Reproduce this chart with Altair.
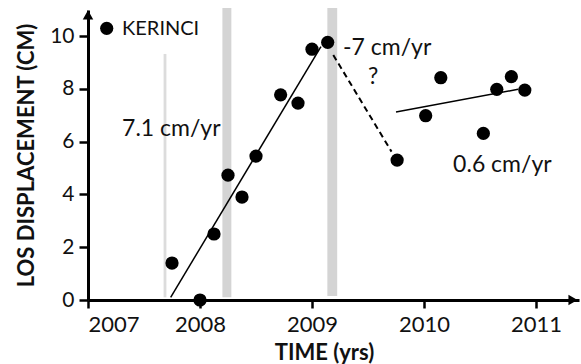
import altair as alt
import pandas as pd

# Observed points
pt_x = [2007.75, 2008.0, 2008.125, 2008.25, 2008.375, 2008.5, 2008.72, 2008.875,
        2009.0, 2009.14, 2009.76, 2010.015, 2010.15, 2010.53, 2010.65, 2010.78, 2010.9]
pt_y = [1.40, 0.0, 2.5, 4.73, 3.9, 5.45, 7.77, 7.46,
        9.5, 9.76, 5.3, 6.98, 8.42, 6.31, 7.98, 8.46, 7.95]

# Fitted trend segments
fit_seg = ["a", "a", "c", "c"]
fit_x = [2007.738, 2009.08, 2009.75, 2010.84]
fit_y = [0.1, 9.6, 7.12, 7.98]
dash_x = [2009.19, 2009.71]
dash_y = [9.28, 5.62]

# Gray bands (eruption / event markers)
band_x1 = [2007.675, 2008.2, 2009.137]
band_x2 = [2007.70, 2008.28, 2009.225]
band_y1 = [0.1, 0.1, 0.15]
band_y2 = [9.32, 11.06, 11.06]

# Annotations
ann_text = ["7.1 cm/yr", "-7 cm/yr", "?", "0.6 cm/yr", "KERINCI"]
ann_x = [2007.304, 2009.277, 2009.50, 2010.26, 2007.304]
ann_y = [6.48, 9.56, 8.43, 5.11, 10.25]

x_ticks = [2007, 2008, 2009, 2010, 2011]
y_ticks = [0, 2, 4, 6, 8, 10]

W, H = 491, 290
xdom = [2007, 2007 + W / 112.0]
ydom = [0, H / 26.4]

xs = alt.Scale(domain=xdom, nice=False, zero=False)
ys = alt.Scale(domain=ydom, nice=False, zero=True)

pts = pd.DataFrame({"x": pt_x, "y": pt_y})
fit = pd.DataFrame({"x": fit_x, "y": fit_y, "seg": fit_seg})
dash = pd.DataFrame({"x": dash_x, "y": dash_y})
bands = pd.DataFrame({"x1": band_x1, "x2": band_x2, "y1": band_y1, "y2": band_y2,
                      "k": ["thin", "band", "band"]})
ann = pd.DataFrame({"t": ann_text, "x": ann_x, "y": ann_y})

xaxis = alt.Axis(values=x_ticks, format="d", title="TIME (yrs)", titleX=236,
                 titlePadding=7, labelPadding=6, tickSize=8, labelFontSize=22)
yaxis = alt.Axis(values=y_ticks, title="LOS DISPLACEMENT (CM)", titlePadding=11,
                 labelPadding=5, tickSize=9)

band_layer = alt.Chart(bands).mark_rect(clip=False).encode(
    x=alt.X("x1:Q", scale=xs, axis=xaxis),
    x2="x2:Q",
    y=alt.Y("y1:Q", scale=ys, axis=yaxis),
    y2="y2:Q",
    color=alt.Color("k:N", scale=alt.Scale(domain=["thin", "band"], range=["#dcdcdc", "#d4d4d4"]), legend=None),
)

fit_layer = alt.Chart(fit).mark_line(color="black", strokeWidth=1.5).encode(
    x=alt.X("x:Q", scale=xs), y=alt.Y("y:Q", scale=ys), detail="seg:N")

dash_layer = alt.Chart(dash).mark_line(color="black", strokeWidth=2, strokeDash=[6, 4]).encode(
    x=alt.X("x:Q", scale=xs), y=alt.Y("y:Q", scale=ys))

pt_layer = alt.Chart(pts).mark_circle(color="black", opacity=1, size=175).encode(
    x=alt.X("x:Q", scale=xs), y=alt.Y("y:Q", scale=ys))

legend_dot = alt.Chart(pd.DataFrame({"x": [2007.167], "y": [10.29]})).mark_circle(
    color="black", opacity=1, size=175).encode(x=alt.X("x:Q", scale=xs), y=alt.Y("y:Q", scale=ys))

ann_main = ann[ann.t != "KERINCI"]
txt_layer = alt.Chart(ann_main).mark_text(align="left", baseline="middle", fontSize=23,
                                          font="Lato", color="#111").encode(
    x=alt.X("x:Q", scale=xs), y=alt.Y("y:Q", scale=ys), text="t:N")
ker_layer = alt.Chart(ann[ann.t == "KERINCI"]).mark_text(align="left", baseline="middle", fontSize=20,
                                                        font="Lato", color="#111").encode(
    x=alt.X("x:Q", scale=xs), y=alt.Y("y:Q", scale=ys), text="t:N")

arrow_x = alt.Chart(pd.DataFrame({"x": [2011.33], "y": [0]})).mark_point(
    shape="triangle-right", filled=True, size=110, color="black", opacity=1, clip=False).encode(
    x=alt.X("x:Q", scale=xs), y=alt.Y("y:Q", scale=ys))
arrow_y = alt.Chart(pd.DataFrame({"x": [2007], "y": [10.8]})).mark_point(
    shape="triangle-up", filled=True, size=110, color="black", opacity=1, clip=False).encode(
    x=alt.X("x:Q", scale=xs), y=alt.Y("y:Q", scale=ys))

chart = alt.layer(band_layer, fit_layer, dash_layer, pt_layer, legend_dot, txt_layer, ker_layer,
                  arrow_x, arrow_y).properties(
    width=W, height=H,
    background="white",
    autosize=alt.AutoSizeParams(type="none"),
    padding={"left": 88, "top": 10, "right": 2, "bottom": 64},
).configure_view(stroke=None).configure_axis(
    grid=False, domainColor="black", domainWidth=3, tickColor="black", tickWidth=2.5,
    labelFont="Lato", labelFontSize=21, labelColor="#111",
    titleFont="Lato", titleFontSize=22, titleFontWeight="bold", titleColor="#111",
)

chart.save("out.html", embed_options={"renderer": "svg", "actions": False})
